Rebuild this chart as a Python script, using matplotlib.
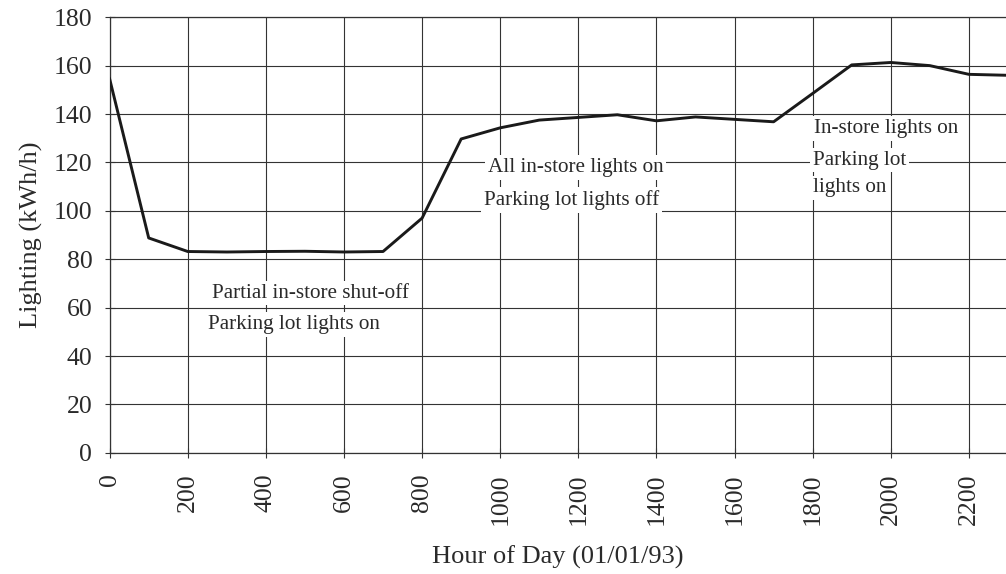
import numpy as np
import matplotlib.pyplot as plt

plt.rcParams['font.family'] = ['Liberation Serif', 'DejaVu Serif']

# hourly lighting load, 01/01/93
hour = [0, 100, 200, 300, 400, 500, 600, 700, 800, 900, 1000, 1100,
        1200, 1300, 1400, 1500, 1600, 1700, 1800, 1900, 2000, 2100, 2200, 2300]
kwh = [154.5, 88.8, 83.2, 83.0, 83.2, 83.3, 83.0, 83.2, 97.0, 129.7, 134.3, 137.5,
       138.6, 139.7, 137.2, 138.8, 137.8, 136.8, 148.5, 160.3, 161.3, 160.0, 156.4, 156.0]

xticks = list(range(0, 2201, 200))
yticks = list(range(0, 181, 20))

# annotations: (text, x, y)
notes = [
    ("Partial in-store shut-off", 262, 66),
    ("Parking lot lights on", 252, 53),
    ("All in-store lights on", 968, 118),
    ("Parking lot lights off", 958, 104.5),
    ("In-store lights on", 1803, 134),
    ("Parking lot", 1800, 121),
    ("lights on", 1800, 109.5),
]

fig = plt.figure(figsize=(10.06, 5.74), dpi=100)
ax = fig.add_axes([0.109, 0.211, 0.891, 0.759])

ax.plot(hour, kwh, color='#1a1a1a', lw=2.1, zorder=3)

ax.set_xlim(0, 2295)
ax.set_ylim(0, 180)
ax.set_xticks(xticks)
ax.set_yticks(yticks)
ax.grid(True, color='#333333', lw=0.8)
ax.set_axisbelow(True)

ax.spines['right'].set_visible(False)
for s in ['left', 'bottom', 'top']:
    ax.spines[s].set_color('#333333')
    ax.spines[s].set_linewidth(0.9)

ax.tick_params(axis='both', direction='inout', length=7, width=0.8,
               color='#333333', labelsize=18.5, labelcolor='#2a2a2a')
ax.tick_params(axis='x', labelrotation=90, pad=11)
ax.tick_params(axis='y', pad=9)

ax.set_xlabel("Hour of Day (01/01/93)", fontsize=19, color='#2a2a2a', labelpad=15)
ax.set_ylabel("Lighting (kWh/h)", fontsize=19, color='#2a2a2a', labelpad=8)

for txt, x, y in notes:
    ax.text(x, y, txt, fontsize=15.2, color='#2a2a2a', ha='left', va='center', zorder=4,
            bbox=dict(facecolor='white', edgecolor='none', pad=2))

fig.savefig("out.png", dpi=100)
